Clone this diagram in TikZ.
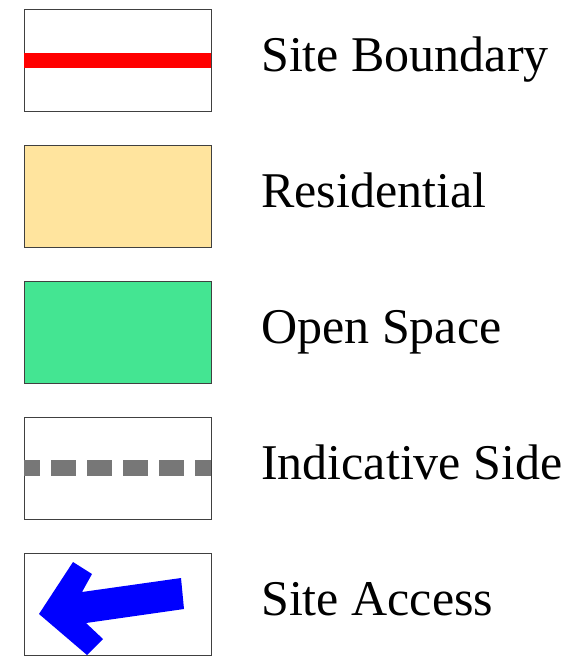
\documentclass[tikz,border=0pt]{standalone}
\usepackage{fontspec}
\setmainfont{Liberation Serif}
\definecolor{residcol}{HTML}{FFE49E}
\definecolor{opencol}{HTML}{44E592}
\definecolor{sidecol}{HTML}{777777}
\tikzset{
  keybox/.style={draw=black!75, line width=1pt},
  keytext/.style={anchor=base west, inner sep=0pt, font=\fontsize{50}{60}\selectfont},
}
\begin{document}
\begin{tikzpicture}[x=1pt, y=-1pt]

\newcommand\XL{24}
\newcommand\XR{211}
\newcommand\XT{261}
\newcommand\HB{51}

\useasboundingbox (0,0) rectangle (588,664);

%% site boundary
\draw[keybox, fill=white] (\XL, 60-\HB) rectangle (\XR, 60+\HB);
\draw[red, line width=15pt] (\XL, 60) -- (\XR, 60);
\node[keytext] (site) at (\XT, 71.5) {Site Boundary};

%% residential
\draw[keybox, fill=residcol] (\XL, 196-\HB) rectangle (\XR, 196+\HB);
\node[keytext] (resid) at (\XT, 207.5) {Residential};

%% open space
\draw[keybox, fill=opencol] (\XL, 332-\HB) rectangle (\XR, 332+\HB);
\node[keytext] (open) at (\XT, 343.5) {Open Space};

%% indicative side
\draw[keybox, fill=white] (\XL, 468-\HB) rectangle (\XR, 468+\HB);
\draw[sidecol, line width=16pt, dash pattern=on 25pt off 11pt, dash phase=9pt] (\XL, 468) -- (\XR, 468);
\node[keytext] (side) at (\XT, 479.5) {Indicative Side};

%% site access
\draw[keybox, fill=white] (\XL, 604-\HB) rectangle (\XR, 604+\HB);
\fill[blue] (181,578) -- (82,592) -- (92,574) -- (73,562) -- (39,614)
  -- (87,655) -- (103,639) -- (86,623) -- (184,609) -- cycle;
\node[keytext] (access) at (\XT, 615.5) {Site Access};

\end{tikzpicture}
\end{document}
